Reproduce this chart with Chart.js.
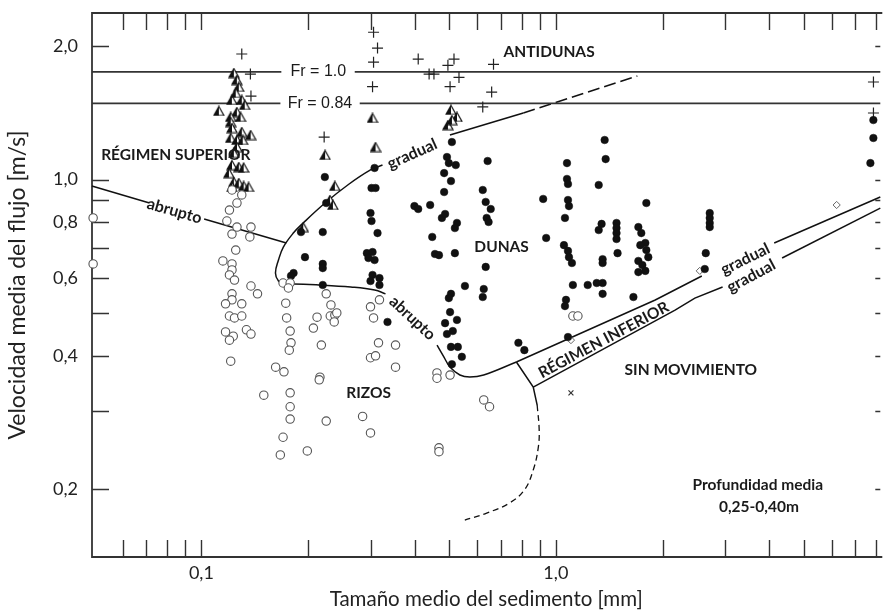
<!DOCTYPE html>
<html>
<head>
<meta charset="utf-8">
<script src="https://cdn.jsdelivr.net/npm/chart.js@4.4.1/dist/chart.umd.min.js"></script>
<style>
  html, body { margin: 0; padding: 0; background: #fff; }
  #wrap { width: 887px; height: 612px; }
</style>
</head>
<body>
<div id="wrap"><canvas id="c" width="887" height="612"></canvas></div>
<script>
// ---- Ejes ----
const xTickLabels = [0.1, 1.0];
const yTickLabels = [0.2, 0.4, 0.6, 0.8, 1.0, 2.0];
const xMinorTicks = [0.06, 0.07, 0.08, 0.09, 0.1, 0.2, 0.3, 0.4, 0.5, 0.6, 0.7, 0.8, 0.9, 1, 2, 3, 4, 5, 6, 7, 8];
const yMinorTicks = [0.2, 0.3, 0.4, 0.5, 0.6, 0.7, 0.8, 0.9, 1.0, 2.0];

// ---- Observaciones: [tamaño medio (mm), velocidad media (m/s)] ----
const antidunas = [
  [0.130, 1.92], [0.1375, 1.73], [0.138, 1.543], [0.306, 2.15], [0.314, 1.98], [0.306, 1.84],
  [0.304, 1.62], [0.222, 1.247], [0.409, 1.87], [0.496, 1.81], [0.516, 1.87], [0.439, 1.73],
  [0.453, 1.73], [0.533, 1.70], [0.503, 1.62], [0.667, 1.82], [0.659, 1.575], [0.622, 1.458],
  [7.87, 1.66], [7.87, 1.413]
];

const transicion = [
  [0.1235, 1.739], [0.1259, 1.677], [0.1275, 1.618], [0.1219, 1.512], [0.130, 1.512], [0.112, 1.428],
  [0.1259, 1.420], [0.121, 1.384], [0.129, 1.384], [0.121, 1.348], [0.122, 1.307], [0.130, 1.280],
  [0.1377, 1.260], [0.121, 1.241], [0.126, 1.228], [0.1308, 1.228], [0.126, 1.184], [0.1235, 1.148],
  [0.122, 1.078], [0.1275, 1.067], [0.1316, 1.064], [0.1196, 1.034], [0.1235, 0.987], [0.1275, 0.982],
  [0.1316, 0.967], [0.1359, 0.962], [0.122, 0.962], [0.125, 1.568], [0.1325, 1.473],
  [0.304, 1.377], [0.310, 1.184], [0.2234, 1.136], [0.238, 0.967], [0.2305, 0.899], [0.235, 0.876],
  [0.1938, 0.781], [0.506, 1.436], [0.526, 1.384], [0.496, 1.327], [0.509, 1.362]
];

const dunas = [
  [0.223, 1.013], [0.225, 0.885], [0.191, 0.761], [0.220, 0.761], [0.196, 0.668], [0.220, 0.645],
  [0.220, 0.631], [0.182, 0.615], [0.179, 0.606], [0.220, 0.578], [0.308, 1.062], [0.302, 0.957],
  [0.310, 0.957], [0.300, 0.840], [0.302, 0.806], [0.314, 0.757], [0.293, 0.682], [0.304, 0.686],
  [0.296, 0.665], [0.308, 0.658], [0.304, 0.609], [0.318, 0.599], [0.300, 0.590], [0.318, 0.578],
  [0.335, 0.477], [0.399, 0.871], [0.409, 0.858], [0.442, 0.876], [0.477, 0.819], [0.487, 0.836],
  [0.526, 0.798], [0.519, 0.777], [0.448, 0.742], [0.456, 0.679], [0.468, 0.675], [0.519, 0.682],
  [0.509, 1.215], [0.493, 1.124], [0.499, 1.089], [0.522, 1.078], [0.484, 1.034], [0.506, 0.992],
  [0.484, 0.937], [0.642, 1.101], [0.622, 0.947], [0.634, 0.890], [0.655, 0.858], [0.638, 0.819],
  [0.646, 0.802], [0.634, 0.635], [0.554, 0.575], [0.626, 0.566], [0.622, 0.543], [0.506, 0.552],
  [0.499, 0.540], [0.503, 0.502], [0.526, 0.482], [0.487, 0.474], [0.512, 0.455], [0.493, 0.448],
  [0.506, 0.419], [0.529, 0.419], [0.543, 0.398], [0.509, 0.383], [0.784, 0.428], [0.815, 0.412],
  [0.921, 0.904], [0.939, 0.738], [1.075, 1.089], [1.075, 1.003], [1.082, 0.977], [1.082, 0.899],
  [1.089, 0.871], [1.061, 0.819], [1.054, 0.711], [1.082, 0.690], [1.089, 0.668], [1.110, 0.648],
  [1.117, 0.578], [1.068, 0.535], [1.061, 0.518], [1.082, 0.441], [1.373, 1.228], [1.382, 1.112],
  [1.321, 0.972], [1.346, 0.794], [1.321, 0.769], [1.355, 0.661], [1.355, 0.648], [1.230, 0.578],
  [1.304, 0.584], [1.355, 0.584], [1.355, 0.552], [1.483, 0.798], [1.483, 0.777], [1.483, 0.757],
  [1.483, 0.734], [1.493, 0.682], [1.655, 0.543], [1.800, 0.885], [1.709, 0.781], [1.742, 0.757],
  [1.788, 0.719], [1.731, 0.711], [1.800, 0.693], [1.823, 0.668], [1.709, 0.655], [1.754, 0.641],
  [1.788, 0.622], [1.709, 0.618], [2.717, 0.840], [2.717, 0.819], [2.717, 0.798], [2.717, 0.781],
  [2.648, 0.682], [2.631, 0.628], [7.866, 1.362], [7.866, 1.241], [7.715, 1.089]
];

const rizos = [
  [0.0495, 0.819], [0.0495, 0.645],
  [0.122, 0.947], [0.130, 0.923], [0.126, 0.885], [0.120, 0.853], [0.118, 0.806], [0.126, 0.781],
  [0.138, 0.781], [0.122, 0.753], [0.137, 0.742], [0.125, 0.693], [0.115, 0.655], [0.122, 0.645],
  [0.122, 0.625], [0.120, 0.609], [0.124, 0.593], [0.138, 0.575], [0.144, 0.552], [0.122, 0.552],
  [0.122, 0.535], [0.117, 0.524], [0.130, 0.524], [0.120, 0.492], [0.124, 0.487], [0.130, 0.492],
  [0.117, 0.453], [0.123, 0.443], [0.120, 0.434], [0.134, 0.458], [0.138, 0.448], [0.121, 0.389],
  [0.170, 0.584], [0.178, 0.584], [0.176, 0.569], [0.173, 0.526], [0.174, 0.487], [0.178, 0.455],
  [0.179, 0.428], [0.177, 0.412], [0.162, 0.377], [0.171, 0.368], [0.216, 0.358], [0.212, 0.489],
  [0.207, 0.462], [0.218, 0.423], [0.225, 0.552], [0.232, 0.521], [0.231, 0.492], [0.238, 0.494],
  [0.237, 0.477], [0.241, 0.500], [0.300, 0.516], [0.318, 0.535], [0.306, 0.487], [0.316, 0.428],
  [0.300, 0.396], [0.310, 0.400], [0.150, 0.326], [0.178, 0.330], [0.178, 0.307], [0.178, 0.288],
  [0.170, 0.262], [0.167, 0.239], [0.199, 0.244], [0.225, 0.285], [0.285, 0.292], [0.300, 0.268],
  [0.215, 0.353], [0.353, 0.423], [0.353, 0.377], [0.462, 0.366], [0.462, 0.356], [0.503, 0.362],
  [0.626, 0.318], [0.650, 0.307], [0.468, 0.248], [0.468, 0.243], [1.117, 0.492], [1.154, 0.492]
];

const lechoPlano = [[1.103, 0.434], [6.197, 0.876], [2.547, 0.622]];
const sinTransporte = [[1.103, 0.330]];

// ---- Límites entre regímenes ----
const froude10 = 1.75;
const froude084 = 1.486;
const abruptoSupA = [[0.0491, 0.967], [0.0714, 0.885]];
const abruptoSupB = [[0.1018, 0.8145], [0.1737, 0.7188]];
const contornoDunas = [
  [0.3243, 1.078], [0.300, 1.051], [0.2588, 0.972], [0.2233, 0.885], [0.1938, 0.798], [0.1817, 0.757],
  [0.1703, 0.704], [0.1650, 0.658], [0.1618, 0.615], [0.1650, 0.590], [0.1726, 0.578], [0.1817, 0.581],
  [0.2176, 0.578], [0.2639, 0.572], [0.3082, 0.563], [0.3307, 0.552]
];
const gradualSup = [[0.5026, 1.260], [0.8096, 1.413]];
const gradualSupDiscontinuo = [[0.8096, 1.413], [1.698, 1.713]];
const abruptoInf = [[0.4622, 0.4231], [0.4835, 0.3975], [0.5026, 0.3774], [0.5362, 0.3620],
  [0.5719, 0.3582], [0.6257, 0.3620], [0.7739, 0.3873]];
const inferiorSupA = [[0.7739, 0.3873], [1.907, 0.5346], [2.581, 0.6056]];
const inferiorSupB = [[4.130, 0.7188], [8.228, 0.9130]];
const inferiorInfA = [[0.8634, 0.3401], [2.169, 0.507], [2.467, 0.540], [2.954, 0.572]];
const inferiorInfB = [[4.348, 0.665], [8.228, 0.862]];
const cajaInferior = [[0.7739, 0.3873], [0.8634, 0.3401], [0.8857, 0.3097]];
const arcoSinMovimiento = [[0.8857, 0.3097], [0.8974, 0.2720], [0.8916, 0.2477], [0.8634, 0.2210],
  [0.8148, 0.1991], [0.7397, 0.1861], [0.6380, 0.1767], [0.5536, 0.1703]];

const X_MIN = 0.04914, X_MAX = 8.228, Y_MIN = 0.1406, Y_MAX = 2.376;

// ---- Rótulos dentro del gráfico ----
const BOLD = 'bold 15.5px Lato';
const rotulos = [
  { t: 'ANTIDUNAS', x: 0.957, y: 1.94, a: 0, f: BOLD },
  { t: 'RÉGIMEN SUPERIOR', x: 0.0847, y: 1.136, a: 0, f: BOLD },
  { t: 'DUNAS', x: 0.703, y: 0.704, a: 0, f: BOLD },
  { t: 'RIZOS', x: 0.2964, y: 0.3297, a: 0, f: BOLD },
  { t: 'SIN MOVIMIENTO', x: 2.404, y: 0.371, a: 0, f: BOLD },
  { t: 'Profundidad media', x: 3.714, y: 0.2043, a: 0, f: BOLD },
  { t: '0,25-0,40m', x: 3.74, y: 0.1823, a: 0, f: BOLD },
  { t: 'Fr = 1.0', x: 0.2138, y: froude10, a: 0, f: '16px "Liberation Sans"' },
  { t: 'Fr = 0.84', x: 0.2161, y: froude084, a: 0, f: '16px "Liberation Sans"' },
  { t: 'gradual', x: 0.3936, y: 1.142, a: -24, f: 'bold 16px Lato' },
  { t: 'gradual', x: 3.423, y: 0.661, a: -26, f: 'bold 16px Lato' },
  { t: 'gradual', x: 3.557, y: 0.6056, a: -28, f: 'bold 16px Lato' },
  { t: 'abrupto', x: 0.0839, y: 0.849, a: 16, f: 'bold 16px Lato' },
  { t: 'abrupto', x: 0.3936, y: 0.4867, a: 43, f: 'bold 16px Lato' },
  { t: 'RÉGIMEN INFERIOR', x: 1.364, y: 0.4343, a: -28, f: BOLD }
];

const fmt = v => Number(v).toFixed(1).replace('.', ',');
const xy = arr => arr.map(([x, y]) => ({ x, y }));

function trianguloMedio() {
  const c = document.createElement('canvas');
  c.width = 12; c.height = 11;
  const g = c.getContext('2d');
  g.beginPath(); g.moveTo(6, 1); g.lineTo(11, 10); g.lineTo(1, 10); g.closePath();
  g.fillStyle = '#fff'; g.fill();
  g.beginPath(); g.moveTo(6, 1); g.lineTo(6, 10); g.lineTo(1, 10); g.closePath();
  g.fillStyle = '#111'; g.fill();
  g.beginPath(); g.moveTo(6, 1); g.lineTo(11, 10); g.lineTo(1, 10); g.closePath();
  g.strokeStyle = '#111'; g.lineWidth = 1.2; g.stroke();
  return c;
}

function linea(pts, opts) {
  return Object.assign({
    type: 'line', data: xy(pts), borderColor: '#111', borderWidth: 1.5,
    pointRadius: 0, fill: false, tension: 0, showLine: true, clip: false, order: 2
  }, opts || {});
}

const datasets = [
  linea([[X_MIN, froude10], [0.1681, froude10]], { borderColor: '#333', borderWidth: 1.7 }),
  linea([[0.2708, froude10], [X_MAX, froude10]], { borderColor: '#333', borderWidth: 1.7 }),
  linea([[X_MIN, froude084], [0.1671, froude084]], { borderColor: '#333', borderWidth: 1.7 }),
  linea([[0.2797, froude084], [X_MAX, froude084]], { borderColor: '#333', borderWidth: 1.7 }),
  linea(abruptoSupA),
  linea(abruptoSupB),
  linea(contornoDunas, { tension: 0.4 }),
  linea(gradualSup),
  linea(gradualSupDiscontinuo, { borderDash: [12, 5] }),
  linea(abruptoInf, { tension: 0.4 }),
  linea(inferiorSupA),
  linea(inferiorSupB),
  linea(inferiorInfA),
  linea(inferiorInfB),
  linea(cajaInferior),
  linea(arcoSinMovimiento, { tension: 0.4, borderDash: [6, 4], borderWidth: 1.3 }),
  { label: 'rizos', data: xy(rizos), pointStyle: 'circle', pointRadius: 4.2, backgroundColor: '#fff',
    borderColor: '#555', borderWidth: 1.1, clip: false, order: 1 },
  { label: 'dunas', data: xy(dunas), pointStyle: 'circle', pointRadius: 3.8, backgroundColor: '#111',
    borderColor: '#111', borderWidth: 0.5, clip: false, order: 1 },
  { label: 'transicion', data: xy(transicion), pointStyle: trianguloMedio(), pointRadius: 5, clip: false, order: 1 },
  { label: 'antidunas', data: xy(antidunas), pointStyle: 'cross', pointRadius: 5.5, borderColor: '#222',
    borderWidth: 1.2, clip: false, order: 1 },
  { label: 'lechoPlano', data: xy(lechoPlano), pointStyle: 'rectRot', pointRadius: 3.6, backgroundColor: '#fff',
    borderColor: '#666', borderWidth: 1, clip: false, order: 1 },
  { label: 'sinTransporte', data: xy(sinTransporte), pointStyle: 'crossRot', pointRadius: 3.5,
    borderColor: '#333', borderWidth: 1.2, clip: false, order: 1 }
];

// Marco con marcas de división hacia dentro
const marco = {
  id: 'marco',
  beforeDatasetsDraw(chart) {
    const { ctx, chartArea: a, scales: { x, y } } = chart;
    ctx.save();
    ctx.strokeStyle = '#333';
    ctx.lineWidth = 1.8;
    ctx.beginPath();
    ctx.moveTo(a.right + 2, a.top); ctx.lineTo(a.left, a.top);
    ctx.lineTo(a.left, a.bottom); ctx.lineTo(a.right + 2, a.bottom);
    ctx.stroke();
    ctx.lineWidth = 1.4;
    ctx.beginPath();
    const L = 17;
    xMinorTicks.forEach(v => {
      const px = Math.round(x.getPixelForValue(v)) + 0.5;
      ctx.moveTo(px, a.top); ctx.lineTo(px, a.top + L);
      ctx.moveTo(px, a.bottom); ctx.lineTo(px, a.bottom - L);
    });
    yMinorTicks.forEach(v => {
      const py = Math.round(y.getPixelForValue(v)) + 0.5;
      ctx.moveTo(a.left, py); ctx.lineTo(a.left + L, py);
      ctx.moveTo(a.right, py); ctx.lineTo(a.right - 5, py);
    });
    ctx.stroke();
    ctx.restore();
  }
};

const textos = {
  id: 'textos',
  afterDatasetsDraw(chart) {
    const { ctx, scales: { x, y } } = chart;
    ctx.save();
    ctx.fillStyle = '#1a1a1a';
    ctx.textAlign = 'center';
    ctx.textBaseline = 'middle';
    rotulos.forEach(r => {
      ctx.save();
      ctx.translate(x.getPixelForValue(r.x), y.getPixelForValue(r.y));
      ctx.rotate(r.a * Math.PI / 180);
      ctx.font = r.f;
      ctx.fillText(r.t, 0, 0);
      ctx.restore();
    });
    ctx.restore();
  }
};

// The outer frame is fixed: axis boxes get exact sizes and no extra label padding.
function fijar(size, key) {
  return s => {
    s[key] = size;
    s.paddingTop = 0; s.paddingBottom = 0; s.paddingLeft = 0; s.paddingRight = 0;
  };
}

new Chart(document.getElementById('c'), {
  type: 'scatter',
  data: { datasets },
  plugins: [marco, textos],
  options: {
    responsive: false,
    devicePixelRatio: 1,
    animation: false,
    events: [],
    layout: { padding: { top: 13, right: 0, bottom: 0, left: 0 } },
    plugins: { legend: { display: false }, tooltip: { enabled: false } },
    scales: {
      x: {
        type: 'logarithmic', position: 'bottom', min: X_MIN, max: X_MAX,
        grid: { display: false, drawTicks: false }, border: { display: false },
        afterBuildTicks: s => { s.ticks = xTickLabels.map(v => ({ value: v })); },
        afterFit: fijar(55, 'height'),
        ticks: { callback: v => fmt(v), font: { family: 'Lato', size: 18 }, color: '#222',
          padding: 5, maxRotation: 0, autoSkip: false },
        title: { display: true, text: 'Tamaño medio del sedimento [mm]', color: '#222',
          font: { family: 'Lato', size: 20.5 }, padding: { top: 0, bottom: 0 } }
      },
      y: {
        type: 'logarithmic', position: 'left', min: Y_MIN, max: Y_MAX,
        grid: { display: false, drawTicks: false }, border: { display: false },
        afterBuildTicks: s => { s.ticks = yTickLabels.map(v => ({ value: v })); },
        afterFit: fijar(92, 'width'),
        ticks: { callback: v => fmt(v), font: { family: 'Lato', size: 18 }, color: '#222',
          padding: 14, autoSkip: false },
        title: { display: true, text: 'Velocidad media del flujo [m/s]', color: '#222',
          font: { family: 'Lato', size: 23 }, padding: { top: 4, bottom: 0 } }
      }
    }
  }
});
</script>
</body>
</html>
